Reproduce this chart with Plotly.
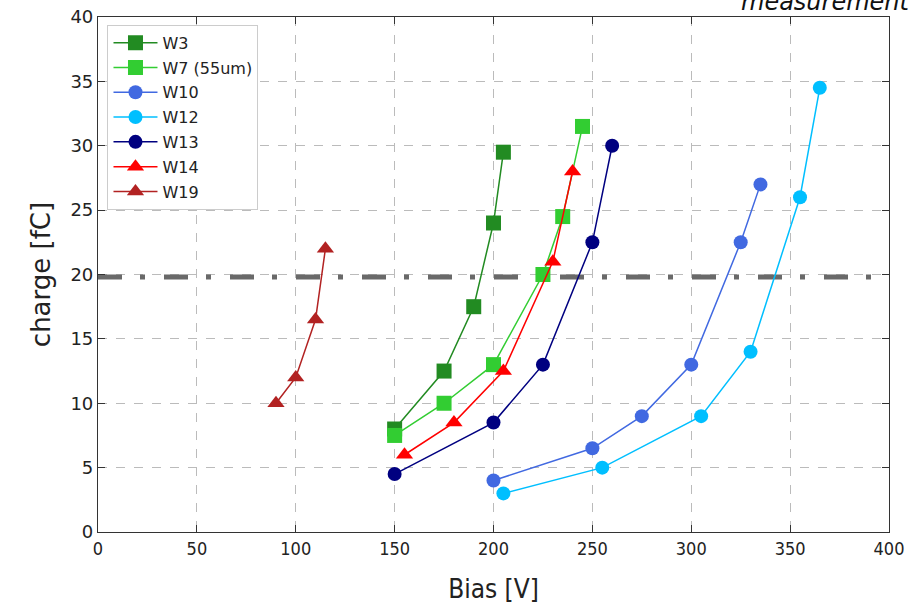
import plotly.graph_objects as go

names = ["W3", "W7 (55um)", "W10", "W12", "W13", "W14", "W19"]
bias = [
    [150, 175, 190, 200, 205],
    [150, 175, 200, 225, 235, 245],
    [200, 250, 275, 300, 325, 335],
    [205, 255, 305, 330, 355, 365],
    [150, 200, 225, 250, 260],
    [155, 180, 205, 230, 240],
    [90, 100, 110, 115],
]
charge = [
    [8, 12.5, 17.5, 24, 29.5],
    [7.5, 10, 13, 20, 24.5, 31.5],
    [4, 6.5, 9, 13, 22.5, 27],
    [3, 5, 9, 14, 26, 34.5],
    [4.5, 8.5, 13, 22.5, 30],
    [6, 8.5, 12.5, 21, 28],
    [10, 12, 16.5, 22],
]
colors = ["#228B22", "#32CD32", "#4169E1", "#00BFFF", "#000080", "#FF0000", "#B22222"]
symbols = ["square", "square", "circle", "circle", "circle", "triangle-up", "triangle-up"]
threshold = 19.8
x_ticks = [0, 50, 100, 150, 200, 250, 300, 350, 400]
y_ticks = [0, 5, 10, 15, 20, 25, 30, 35, 40]

fig = go.Figure()
fig.add_trace(go.Scatter(
    x=[0, 400], y=[threshold, threshold], mode="lines",
    line=dict(color="#696969", width=5, dash="24px,18px,5px,19px"),
    showlegend=False, hoverinfo="skip"))
for n, xs, ys, c, s in zip(names, bias, charge, colors, symbols):
    fig.add_trace(go.Scatter(
        x=xs, y=ys, mode="lines+markers", name=n, legendgroup=n,
        line=dict(color=c, width=1.5),
        marker=dict(color=c, symbol=s, size=15 if s != "circle" else 14,
                    line=dict(width=0))))

axis_common = dict(
    showline=True, linecolor="#333333", linewidth=1.2, mirror="allticks",
    ticks="inside", ticklen=7, tickcolor="#333333",
    showgrid=True, gridcolor="#BBBBBB", griddash="dash", gridwidth=1,
    zeroline=False, automargin=False,
)
fig.update_xaxes(range=[0, 400], tickvals=x_ticks,
                 tickfont=dict(family="DejaVu Sans Condensed, DejaVu Sans", size=18, color="#222"),
                 title=dict(text="Bias [V]", font=dict(family="DejaVu Sans Condensed, DejaVu Sans", size=26, color="#222"), standoff=22),
                 **axis_common)
fig.update_yaxes(range=[0, 40], tickvals=y_ticks,
                 tickfont=dict(family="DejaVu Sans", size=18, color="#222"),
                 title=dict(text="charge [fC]", font=dict(family="DejaVu Sans", size=26, color="#222"), standoff=12),
                 **axis_common)

fig.add_annotation(text="measurement", xref="paper", yref="paper",
                   x=1.03, y=1.0, xanchor="right", yanchor="bottom", yshift=-1,
                   showarrow=False,
                   font=dict(family="DejaVu Sans", size=24, color="#111", style="italic"))

fig.update_layout(
    width=910, height=607,
    margin=dict(l=98, r=21, t=17, b=75),
    plot_bgcolor="white", paper_bgcolor="white",
    legend=dict(x=0.012, y=0.985, xanchor="left", yanchor="top",
                bgcolor="white", bordercolor="#CCCCCC", borderwidth=1,
                font=dict(family="DejaVu Sans", size=16, color="#222"),
                itemwidth=44, tracegroupgap=1),
)
fig.write_html("out.html", config={"displayModeBar": False},
               post_script="document.body.style.margin='0';document.body.style.overflow='hidden';")
